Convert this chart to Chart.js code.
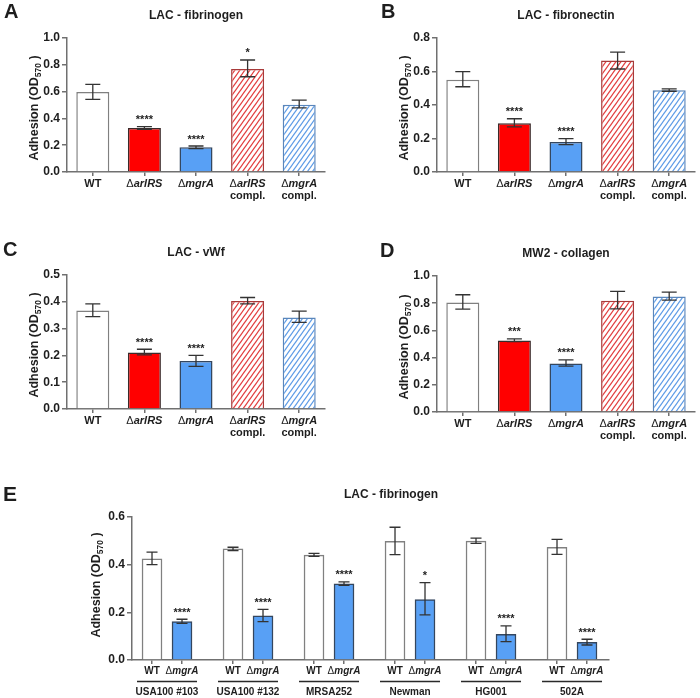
<!DOCTYPE html>
<html><head><meta charset="utf-8">
<script src="https://cdn.jsdelivr.net/npm/chart.js@4/dist/chart.umd.min.js"></script>
<style>
html,body{margin:0;padding:0;background:#fff;}
#wrap{position:relative;width:700px;height:698px;overflow:hidden;}
canvas{position:absolute;left:0;top:0;}
</style></head><body><div id="wrap">
<canvas id="cA" width="700" height="698"></canvas>
<canvas id="cB" width="700" height="698"></canvas>
<canvas id="cC" width="700" height="698"></canvas>
<canvas id="cD" width="700" height="698"></canvas>
<canvas id="cE" width="700" height="698"></canvas>
</div>
<script>
const FONT = '"Liberation Sans", Arial, Helvetica, sans-serif';

// ---------- data ----------
const strainsAD = ['WT', 'ΔarlRS', 'ΔmgrA', 'ΔarlRS compl.', 'ΔmgrA compl.'];

const A_mean = [0.597, 0.328, 0.184, 0.769, 0.502];
const A_hi   = [0.654, 0.338, 0.194, 0.836, 0.537];
const A_lo   = [0.542, 0.318, 0.174, 0.711, 0.478];
const A_sig  = ['', '****', '****', '*', ''];

const B_mean = [0.551, 0.291, 0.179, 0.665, 0.488];
const B_hi   = [0.599, 0.318, 0.199, 0.716, 0.496];
const B_lo   = [0.509, 0.269, 0.163, 0.615, 0.482];
const B_sig  = ['', '****', '****', '', ''];

const C_mean = [0.368, 0.211, 0.179, 0.403, 0.341];
const C_hi   = [0.392, 0.223, 0.200, 0.416, 0.365];
const C_lo   = [0.345, 0.202, 0.159, 0.392, 0.323];
const C_sig  = ['', '****', '****', '', ''];

const D_mean = [0.806, 0.526, 0.356, 0.818, 0.850];
const D_hi   = [0.862, 0.538, 0.383, 0.887, 0.882];
const D_lo   = [0.757, 0.518, 0.337, 0.759, 0.823];
const D_sig  = ['', '***', '****', '', ''];

const E_strains = ['USA100 #103', 'USA100 #132', 'MRSA252', 'Newman', 'HG001', '502A'];
const E_bars    = ['WT', 'ΔmgrA'];
const E_wt      = [0.425, 0.466, 0.440, 0.498, 0.499, 0.473];
const E_wt_hi   = [0.453, 0.473, 0.447, 0.557, 0.511, 0.506];
const E_wt_lo   = [0.400, 0.459, 0.435, 0.442, 0.489, 0.443];
const E_mgr     = [0.161, 0.185, 0.320, 0.254, 0.108, 0.074];
const E_mgr_hi  = [0.171, 0.212, 0.328, 0.325, 0.143, 0.087];
const E_mgr_lo  = [0.154, 0.161, 0.313, 0.189, 0.077, 0.063];
const E_sig     = ['****', '****', '****', '*', '****', '****'];

// ---------- styles ----------
const AXIS = '#707070', INK = '#1e1e1e', ERR = '#333333';
function hatch(color) {
  const w = 5, h = 7;
  const c = document.createElement('canvas'); c.width = w; c.height = h;
  const g = c.getContext('2d');
  g.fillStyle = '#ffffff'; g.fillRect(0, 0, w, h);
  g.strokeStyle = color; g.lineWidth = 1.25;
  for (const dy of [-h, 0, h]) {
    g.beginPath(); g.moveTo(-w, 2 * h + dy); g.lineTo(2 * w, -h + dy); g.stroke();
  }
  return document.createElement('canvas').getContext('2d').createPattern(c, 'repeat');
}
const RED = '#ff0000', BLUE = '#58a0f5';
const fillsAD = ['#ffffff', RED, BLUE, hatch('#e23c3c'), hatch('#5c9be6')];
const bordersAD = ['#808080', '#3a2a2a', '#34465e', '#a83a3a', '#5a86bb'];

// ---------- helpers ----------
function drawGene(ctx, word, x, y, size) {
  ctx.textBaseline = 'middle';
  ctx.fillStyle = INK;
  if (word.startsWith('Δ')) {
    const a = 'Δ', b = word.slice(1);
    ctx.font = `${size}px ${FONT}`; const wa = ctx.measureText(a).width;
    ctx.font = `italic bold ${size}px ${FONT}`; const wb = ctx.measureText(b).width;
    let x0 = x - (wa + wb) / 2;
    ctx.textAlign = 'left';
    ctx.font = `${size}px ${FONT}`; ctx.fillText(a, x0, y);
    ctx.font = `italic bold ${size}px ${FONT}`; ctx.fillText(b, x0 + wa, y);
  } else {
    ctx.font = `bold ${size}px ${FONT}`; ctx.textAlign = 'center';
    ctx.fillText(word, x, y);
  }
}
function drawYLabel(ctx, cx, cy) {
  ctx.save();
  ctx.translate(cx, cy); ctx.rotate(-Math.PI / 2);
  const big = `bold 12.5px ${FONT}`, small = `bold 8.5px ${FONT}`;
  const p1 = 'Adhesion (OD', p2 = '570', p3 = ' )';
  ctx.font = big; const w1 = ctx.measureText(p1).width, w3 = ctx.measureText(p3).width;
  ctx.font = small; const w2 = ctx.measureText(p2).width;
  let x = -(w1 + w2 + w3) / 2;
  ctx.fillStyle = INK; ctx.textBaseline = 'middle'; ctx.textAlign = 'left';
  ctx.font = big; ctx.fillText(p1, x, 0); x += w1;
  ctx.font = small; ctx.fillText(p2, x, 3.5); x += w2;
  ctx.font = big; ctx.fillText(p3, x, 0);
  ctx.restore();
}
function drawText(ctx, txt, x, y, font, align) {
  ctx.font = font; ctx.fillStyle = INK; ctx.textAlign = align || 'center'; ctx.textBaseline = 'middle';
  ctx.fillText(txt, x, y);
}
function errBar(ctx, x, yHi, yLo, cap) {
  ctx.strokeStyle = ERR; ctx.lineWidth = 1.3;
  ctx.beginPath();
  ctx.moveTo(x, yHi); ctx.lineTo(x, yLo);
  ctx.moveTo(x - cap / 2, yHi); ctx.lineTo(x + cap / 2, yHi);
  ctx.moveTo(x - cap / 2, yLo); ctx.lineTo(x + cap / 2, yLo);
  ctx.stroke();
}
function stars(ctx, s, x, yTop) {
  if (!s) return;
  ctx.font = `bold 11px ${FONT}`; ctx.fillStyle = INK; ctx.textAlign = 'center'; ctx.textBaseline = 'alphabetic';
  ctx.fillText(s, x, yTop - 3.5);
}

const YW = 40, XH = 8;
function yScale(ymax, step) {
  return {
    min: 0, max: ymax,
    ticks: { stepSize: step, color: INK, font: { family: FONT, size: 12, weight: 'bold' }, padding: 2,
             callback: v => v.toFixed(1) },
    grid: { drawOnChartArea: false, drawTicks: true, tickLength: 5, color: AXIS, lineWidth: 1.5 },
    border: { display: true, color: AXIS, width: 1.5 },
    afterFit: s => { s.width = YW; }
  };
}

// ---------- panels A-D ----------
function panelAD(id, cfg) {
  const deco = {
    id: 'deco' + id,
    afterDatasetsDraw(chart) {
      const ctx = chart.ctx, ys = chart.scales.y, meta = chart.getDatasetMeta(0);
      ctx.save();
      meta.data.forEach((bar, i) => {
        const yh = ys.getPixelForValue(cfg.hi[i]), yl = ys.getPixelForValue(cfg.lo[i]);
        errBar(ctx, bar.x, yh, yl, 15);
        stars(ctx, cfg.sig[i], bar.x, yh);
      });
      ctx.restore();
    },
    afterDraw(chart) {
      const ctx = chart.ctx, a = chart.chartArea, meta = chart.getDatasetMeta(0);
      ctx.save();
      drawText(ctx, cfg.letter, cfg.lx, cfg.ly, `bold 20px ${FONT}`, 'left');
      drawText(ctx, cfg.title, (a.left + a.right) / 2, a.top - 22, `bold 12px ${FONT}`);
      drawYLabel(ctx, a.left - 32, (a.top + a.bottom) / 2 + 3);
      chart.data.labels.forEach((lab, i) => {
        const x = meta.data[i].x;
        const parts = lab.split(' ');
        drawGene(ctx, parts[0], x, a.bottom + 12, 11);
        if (parts.length > 1) drawText(ctx, parts.slice(1).join(' '), x, a.bottom + 23.5, `bold 11px ${FONT}`);
      });
      ctx.restore();
    }
  };
  return new Chart(document.getElementById(id), {
    type: 'bar',
    data: {
      labels: strainsAD,
      datasets: [{ data: cfg.mean, backgroundColor: fillsAD, borderColor: bordersAD, borderWidth: 1.5,
                   categoryPercentage: 1, barPercentage: 0.64 }]
    },
    options: {
      responsive: false, animation: false,
      layout: { padding: { left: cfg.area.l - YW, right: 700 - cfg.area.r, top: cfg.area.t, bottom: 698 - cfg.area.b - XH } },
      plugins: { legend: { display: false }, tooltip: { enabled: false } },
      scales: {
        x: { offset: true, ticks: { display: false },
             grid: { offset: false, drawOnChartArea: false, drawTicks: true, tickLength: 4, color: AXIS, lineWidth: 1.5 },
             border: { display: true, color: AXIS, width: 1.5 },
             afterFit: s => { s.height = XH; } },
        y: yScale(cfg.ymax, cfg.step)
      }
    },
    plugins: [deco]
  });
}

panelAD('cA', { letter: 'A', lx: 4, ly: 12, title: 'LAC - fibrinogen', area: { l: 67, r: 325, t: 38, b: 172 },
  ymax: 1.0, step: 0.2, mean: A_mean, hi: A_hi, lo: A_lo, sig: A_sig });
panelAD('cB', { letter: 'B', lx: 381, ly: 12, title: 'LAC - fibronectin', area: { l: 437, r: 695, t: 38, b: 172 },
  ymax: 0.8, step: 0.2, mean: B_mean, hi: B_hi, lo: B_lo, sig: B_sig });
panelAD('cC', { letter: 'C', lx: 3, ly: 250, title: 'LAC - vWf', area: { l: 67, r: 325, t: 275, b: 409 },
  ymax: 0.5, step: 0.1, mean: C_mean, hi: C_hi, lo: C_lo, sig: C_sig });
panelAD('cD', { letter: 'D', lx: 380, ly: 251, title: 'MW2 - collagen', area: { l: 437, r: 695, t: 276, b: 412 },
  ymax: 1.0, step: 0.2, mean: D_mean, hi: D_hi, lo: D_lo, sig: D_sig });

// ---------- panel E ----------
(function () {
  const GAP = 2.7; // group pitch in bar-pitch units
  const pos = (g, j) => g * GAP + j;
  const area = { l: 132, r: 609, t: 517, b: 660 };
  const xs = [];
  E_strains.forEach((s, g) => { xs.push(pos(g, 0)); xs.push(pos(g, 1)); });
  const deco = {
    id: 'decoE',
    afterDatasetsDraw(chart) {
      const ctx = chart.ctx, ys = chart.scales.y;
      ctx.save();
      [[E_wt_hi, E_wt_lo, null], [E_mgr_hi, E_mgr_lo, E_sig]].forEach(([hi, lo, sig], d) => {
        chart.getDatasetMeta(d).data.forEach((bar, i) => {
          const yh = ys.getPixelForValue(hi[i]), yl = ys.getPixelForValue(lo[i]);
          errBar(ctx, bar.x, yh, yl, 11);
          if (sig) stars(ctx, sig[i], bar.x, yh);
        });
      });
      ctx.restore();
    },
    afterDraw(chart) {
      const ctx = chart.ctx, a = chart.chartArea, xsc = chart.scales.x;
      ctx.save();
      drawText(ctx, 'E', 3, 495, `bold 21px ${FONT}`, 'left');
      drawText(ctx, 'LAC - fibrinogen', 391, 495, `bold 12px ${FONT}`);
      drawYLabel(ctx, 97, 585);
      E_strains.forEach((s, g) => {
        const x0 = xsc.getPixelForValue(pos(g, 0)), x1 = xsc.getPixelForValue(pos(g, 1));
        drawGene(ctx, E_bars[0], x0, a.bottom + 11, 10);
        drawGene(ctx, E_bars[1], x1, a.bottom + 11, 10);
        const c = (x0 + x1) / 2;
        ctx.strokeStyle = '#2a2a2a'; ctx.lineWidth = 1.5;
        ctx.beginPath(); ctx.moveTo(c - 30, a.bottom + 21.5); ctx.lineTo(c + 30, a.bottom + 21.5); ctx.stroke();
        drawText(ctx, s, c, a.bottom + 32, `bold 10px ${FONT}`);
      });
      ctx.restore();
    }
  };
  new Chart(document.getElementById('cE'), {
    type: 'bar',
    data: {
      datasets: [
        { label: E_bars[0], data: E_wt.map((v, g) => ({ x: pos(g, 0), y: v })),
          backgroundColor: '#ffffff', borderColor: '#808080', borderWidth: 1.5, barThickness: 20, grouped: false },
        { label: E_bars[1], data: E_mgr.map((v, g) => ({ x: pos(g, 1), y: v })),
          backgroundColor: BLUE, borderColor: '#34465e', borderWidth: 1.5, barThickness: 20, grouped: false }
      ]
    },
    options: {
      responsive: false, animation: false,
      layout: { padding: { left: area.l - YW, right: 700 - area.r, top: area.t, bottom: 698 - area.b - XH } },
      plugins: { legend: { display: false }, tooltip: { enabled: false } },
      scales: {
        x: { type: 'linear', offset: false, min: -0.667, max: 15.233, ticks: { display: false },
             afterBuildTicks: s => { s.ticks = xs.map(v => ({ value: v })); },
             grid: { offset: false, drawOnChartArea: false, drawTicks: true, tickLength: 4, color: AXIS, lineWidth: 1.5 },
             border: { display: true, color: AXIS, width: 1.5 },
             afterFit: s => { s.height = XH; } },
        y: yScale(0.6, 0.2)
      }
    },
    plugins: [deco]
  });
})();
</script>
</body></html>
